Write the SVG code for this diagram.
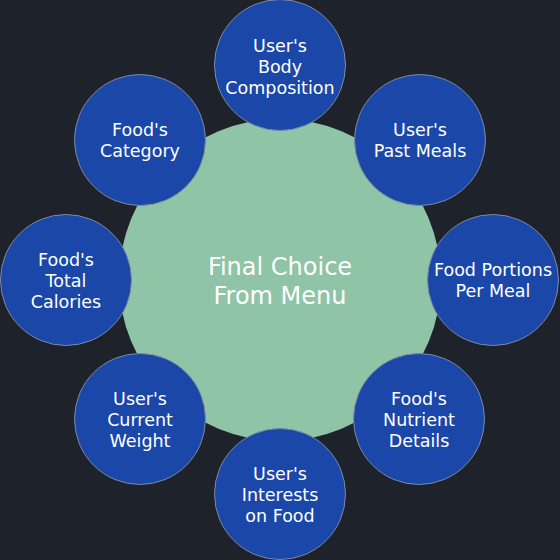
<svg xmlns="http://www.w3.org/2000/svg" width="560" height="560" viewBox="0 0 560 560">
<style>
.bg{fill:#1e222b}
.hub{fill:#8fc4a7}
.sat{fill:#1a47a8;stroke:#7d8aa3;stroke-width:1}
.t{font-family:"DejaVu Sans",Verdana,sans-serif;font-size:17.5px;fill:#ffffff;text-anchor:middle}
.h{font-family:"DejaVu Sans",Verdana,sans-serif;font-size:24px;fill:#ffffff;text-anchor:middle}
</style>
<rect class="bg" x="0" y="0" width="560" height="560"/>
<g id="connectors"></g>
<g id="hub">
<circle class="hub" cx="280" cy="280" r="161"/>
<text class="h" x="280" y="275">Final Choice</text>
<text class="h" x="280" y="304">From Menu</text>
</g>
<g id="n-body">
<circle class="sat" cx="280" cy="65" r="65.5"/>
<text class="t" x="280" y="52">User's</text>
<text class="t" x="280" y="73">Body</text>
<text class="t" x="280" y="94">Composition</text>
</g>
<g id="n-past">
<circle class="sat" cx="420" cy="140" r="65.5"/>
<text class="t" x="420" y="136">User's</text>
<text class="t" x="420" y="157">Past Meals</text>
</g>
<g id="n-portions">
<circle class="sat" cx="493" cy="280" r="65.5"/>
<text class="t" x="493" y="276">Food Portions</text>
<text class="t" x="493" y="297">Per Meal</text>
</g>
<g id="n-nutrient">
<circle class="sat" cx="419" cy="419" r="65.5"/>
<text class="t" x="419" y="405">Food's</text>
<text class="t" x="419" y="426">Nutrient</text>
<text class="t" x="419" y="447">Details</text>
</g>
<g id="n-interests">
<circle class="sat" cx="280" cy="494" r="65.5"/>
<text class="t" x="280" y="480">User's</text>
<text class="t" x="280" y="501">Interests</text>
<text class="t" x="280" y="522">on Food</text>
</g>
<g id="n-weight">
<circle class="sat" cx="140" cy="419" r="65.5"/>
<text class="t" x="140" y="405">User's</text>
<text class="t" x="140" y="426">Current</text>
<text class="t" x="140" y="447">Weight</text>
</g>
<g id="n-calories">
<circle class="sat" cx="66" cy="280" r="65.5"/>
<text class="t" x="66" y="266">Food's</text>
<text class="t" x="66" y="287">Total</text>
<text class="t" x="66" y="308">Calories</text>
</g>
<g id="n-category">
<circle class="sat" cx="140" cy="140" r="65.5"/>
<text class="t" x="140" y="136">Food's</text>
<text class="t" x="140" y="157">Category</text>
</g>
</svg>
